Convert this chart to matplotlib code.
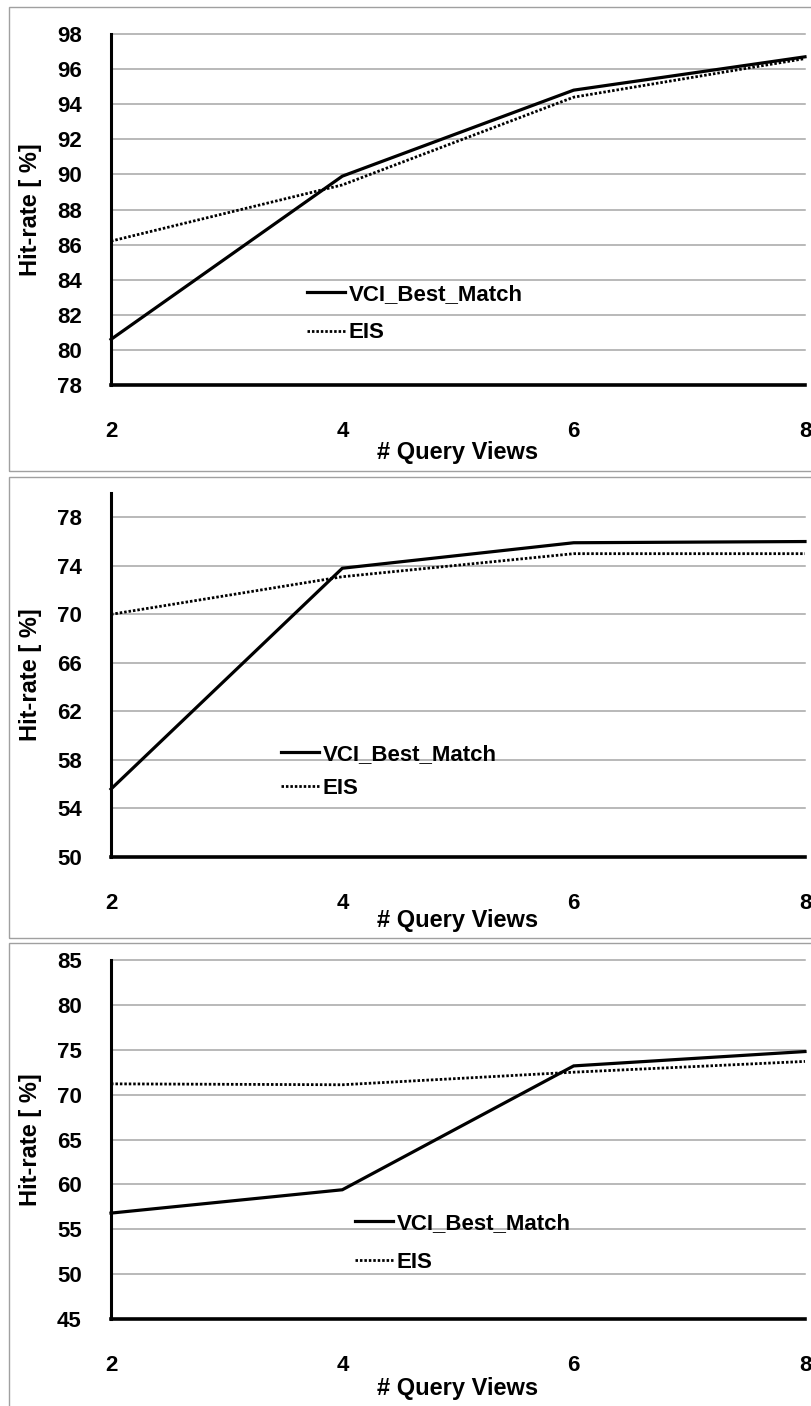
import matplotlib
matplotlib.use("Agg")
import matplotlib.pyplot as plt
from matplotlib.patches import Rectangle

# ---------------- data ----------------
query_views = [2, 4, 6, 8]
x_ticks = [2, 4, 6, 8]

p1_vci = [80.6, 89.9, 94.8, 96.7]
p1_eis = [86.2, 89.4, 94.4, 96.6]
p1_yticks = [78, 80, 82, 84, 86, 88, 90, 92, 94, 96, 98]

p2_vci = [55.6, 73.8, 75.9, 76.0]
p2_eis = [70.0, 73.1, 75.0, 75.0]
p2_yticks = [50, 54, 58, 62, 66, 70, 74, 78]

p3_vci = [56.8, 59.4, 73.2, 74.8]
p3_eis = [71.2, 71.1, 72.5, 73.7]
p3_yticks = [45, 50, 55, 60, 65, 70, 75, 80, 85]

series_names = ["VCI_Best_Match", "EIS"]
x_label = "# Query Views"
y_label = "Hit-rate [ %]"

# ---------------- layout ----------------
W, H = 811, 1406
plt.rcParams['font.family'] = ['Liberation Sans', 'DejaVu Sans']
plt.rcParams['font.weight'] = 'bold'
fig = plt.figure(figsize=(W / 100, H / 100), dpi=100)
fig.patch.set_facecolor('white')

def fx(x):
    return x / W

def fy(y):
    return 1 - y / H

FS = 16
FS_T = 17

panels = [
    dict(vci=p1_vci, eis=p1_eis, yticks=p1_yticks, ylim=(78, 98),
         top=34, bot=385, box=(7, 471), leg=(307, 313.5), ls=0.80, xl=452),
    dict(vci=p2_vci, eis=p2_eis, yticks=p2_yticks, ylim=(50, 80),
         top=493, bot=857, box=(477, 938), leg=(281, 771.5), ls=0.60, xl=920),
    dict(vci=p3_vci, eis=p3_eis, yticks=p3_yticks, ylim=(45, 85),
         top=960, bot=1319, box=(943, 1415), leg=(355, 1243), ls=0.80, xl=1388),
]

left_px, right_px = 111, 805

for p in panels:
    # panel frame
    by0, by1 = p['box']
    fig.patches.append(Rectangle((fx(9), fy(by1)), fx(815) - fx(9), fy(by0) - fy(by1),
                                 transform=fig.transFigure, fill=False,
                                 edgecolor='#a0a0a0', linewidth=1.0, zorder=0))
    ax = fig.add_axes([fx(left_px), fy(p['bot']), fx(right_px) - fx(left_px),
                       fy(p['top']) - fy(p['bot'])])
    ax.set_facecolor('none')
    ax.plot(query_views, p['vci'], color='black', linewidth=2.3,
            solid_joinstyle='miter', label=series_names[0], zorder=3, clip_on=False)
    ax.plot(query_views, p['eis'], color='black', linewidth=2.0,
            linestyle=(0, (0.9, 0.7)), label=series_names[1], zorder=3, clip_on=False)
    ax.set_xlim(2, 8)
    ax.set_ylim(*p['ylim'])
    ax.set_xticks(x_ticks)
    ax.set_yticks(p['yticks'])
    ax.set_xticklabels([str(v) for v in x_ticks], fontsize=FS, fontweight='bold')
    ax.set_yticklabels([str(v) for v in p['yticks']], fontsize=FS, fontweight='bold')
    ax.tick_params(axis='both', length=0)
    ax.tick_params(axis='y', pad=21)
    ax.tick_params(axis='x', pad=26)
    for t in p['yticks']:
        if t > p['ylim'][0]:
            ax.axhline(t, color='#a6a6a6', linewidth=1.1, zorder=1, clip_on=False)
    ax.spines['top'].set_visible(False)
    ax.spines['right'].set_visible(False)
    ax.spines['left'].set_linewidth(2.2)
    ax.spines['bottom'].set_linewidth(2.6)
    ax.spines['left'].set_zorder(4)
    ax.spines['bottom'].set_zorder(4)
    # axis titles
    fig.text(fx((left_px + right_px) / 2), fy(p['xl']), x_label, ha='center', va='center',
             fontsize=FS_T, fontweight='bold')
    fig.text(fx(31), fy((p['top'] + p['bot']) / 2), y_label, ha='center', va='center',
             rotation=90, fontsize=FS_T, fontweight='bold')
    # legend
    lx, ly = p['leg']
    ax.legend(loc='center left', bbox_to_anchor=(fx(lx), fy(ly)),
              bbox_transform=fig.transFigure, frameon=False,
              handlelength=1.72, handletextpad=0.15, labelspacing=p['ls'],
              borderaxespad=0, borderpad=0, prop={'weight': 'bold', 'size': FS})

fig.savefig('out.png', dpi=100, facecolor='white')
